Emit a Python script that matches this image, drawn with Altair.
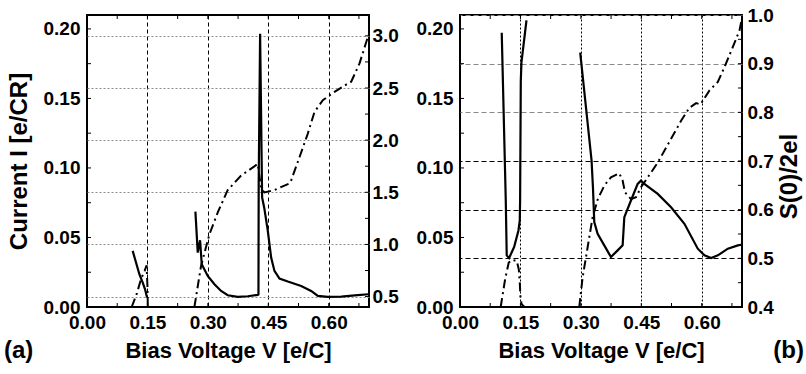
import altair as alt
import pandas as pd

# ---------------- Panel (a) ----------------
# Current I (dash-dot, left axis)
a_cur_x1 = [0.111, 0.124, 0.134, 0.143, 0.148, 0.150, 0.151]
a_cur_y1 = [0.0, 0.010, 0.020, 0.026, 0.030, 0.015, 0.0]
a_cur_x2 = [0.2666, 0.283, 0.3039, 0.3246, 0.349, 0.3825, 0.4239, 0.4322, 0.4405, 0.4653,
            0.5026, 0.5067, 0.5274, 0.548, 0.5647, 0.5854, 0.6144, 0.6475, 0.6558, 0.6765, 0.6988]
a_cur_y2 = [0.0, 0.0294, 0.0523, 0.068, 0.084, 0.0945, 0.1029, 0.085, 0.0824, 0.0841,
            0.0889, 0.091, 0.1077, 0.1246, 0.1403, 0.1487, 0.1547, 0.1607, 0.162, 0.1752, 0.1957]
# Fano factor S(0)/2eI (solid, right axis)
a_fano_x1 = [0.1134, 0.130, 0.1383, 0.1441, 0.149]
a_fano_y1 = [0.938, 0.714, 0.634, 0.570, 0.49]
a_fano_x2 = [0.2691, 0.2749, 0.2807, 0.2848, 0.2997, 0.3163, 0.3329, 0.3494, 0.3743, 0.3991,
             0.4239, 0.4256, 0.4262, 0.4297, 0.4347, 0.4400, 0.4488, 0.4571, 0.4653, 0.4778,
             0.4985, 0.5316, 0.5564, 0.573, 0.5978, 0.631, 0.672, 0.699]
a_fano_y2 = [1.315, 0.922, 1.04, 0.81, 0.698, 0.618, 0.554, 0.513, 0.497, 0.503,
             0.516, 0.52, 1.6, 3.02, 1.45, 1.35, 1.13, 0.874, 0.746, 0.673,
             0.644, 0.602, 0.554, 0.506, 0.497, 0.500, 0.513, 0.522]

# ---------------- Panel (b) ----------------
b_cur_x1 = [0.101, 0.112, 0.121, 0.130, 0.141, 0.146, 0.1485, 0.150, 0.153, 0.160]
b_cur_y1 = [0.0, 0.020, 0.032, 0.034, 0.033, 0.027, 0.017, 0.007, 0.002, 0.0]
b_cur_x2 = [0.296, 0.3043, 0.3167, 0.3291, 0.3416, 0.3581, 0.3747, 0.3954, 0.4037, 0.4095,
            0.4244, 0.4369, 0.4493, 0.4908, 0.5239, 0.5488, 0.5695, 0.5861, 0.5969, 0.6193,
            0.64, 0.6566, 0.6773, 0.6939, 0.698]
b_cur_y2 = [0.0, 0.0212, 0.0428, 0.0644, 0.0772, 0.0873, 0.0933, 0.0962, 0.0909, 0.0825,
            0.0776, 0.0789, 0.0861, 0.1038, 0.121, 0.134, 0.1433, 0.1466, 0.1457, 0.1558,
            0.1618, 0.1726, 0.187, 0.199, 0.205]
b_fano_x1 = [0.1036, 0.1136, 0.116, 0.1219, 0.1343, 0.1451, 0.1484, 0.1492, 0.1509, 0.1525, 0.165]
b_fano_y1 = [0.9635, 0.6188, 0.506, 0.5007, 0.5232, 0.5573, 0.5778, 0.6188, 0.8645, 0.902, 0.989]
b_fano_x2 = [0.2984, 0.3266, 0.33, 0.3333, 0.3416, 0.3581, 0.3747, 0.3913, 0.4037, 0.4079,
             0.4244, 0.441, 0.4493, 0.4576, 0.4908, 0.5239, 0.5571, 0.5902, 0.6068, 0.6234,
             0.64, 0.6649, 0.6897, 0.698]
b_fano_y2 = [0.9225, 0.7007, 0.646, 0.5744, 0.5505, 0.5266, 0.5027, 0.5164, 0.5266, 0.5846,
             0.6188, 0.6529, 0.6597, 0.6529, 0.6324, 0.6051, 0.571, 0.5198, 0.5061, 0.5007,
             0.5061, 0.5198, 0.5266, 0.528]

# ---------------- Axes / ticks ----------------
x_labels = [0.0, 0.15, 0.30, 0.45, 0.60]
x_ticks = [0.0, 0.075, 0.15, 0.225, 0.30, 0.375, 0.45, 0.525, 0.60, 0.675]
left_labels = [0.0, 0.05, 0.10, 0.15, 0.20]
left_ticks = [0.0, 0.025, 0.05, 0.075, 0.10, 0.125, 0.15, 0.175, 0.20]
a_right_labels = [0.5, 1.0, 1.5, 2.0, 2.5, 3.0]
a_right_ticks = [0.5, 0.75, 1.0, 1.25, 1.5, 1.75, 2.0, 2.25, 2.5, 2.75, 3.0]
b_right_labels = [0.4, 0.5, 0.6, 0.7, 0.8, 0.9, 1.0]
b_right_ticks = [0.4, 0.45, 0.5, 0.55, 0.6, 0.65, 0.7, 0.75, 0.8, 0.85, 0.9, 0.95, 1.0]

W, H = 282, 292
TL = 4
FONT = "Liberation Sans"


def segs(*pairs):
    rows = []
    for s, (xs, ys) in enumerate(pairs):
        for i, (x, y) in enumerate(zip(xs, ys)):
            rows.append({"x": x, "y": y, "seg": s, "i": i})
    return pd.DataFrame(rows)


def panel(cur, fano, rdomain, rlabels, rticks, rfmt, left_title, right_title,
          grid_color, grid_dash, xgrid_dash, tag, tag_x, tag_align, rpad):
    xaxis = alt.Axis(values=x_labels, format=".2f", title="Bias Voltage V [e/C]",
                     grid=True, gridDash=xgrid_dash, gridColor="black", gridWidth=1,
                     ticks=False, domain=False, labelPadding=6, titlePadding=8,
                     labelFlush=False, labelOverlap=False)
    X = alt.X("x:Q", scale=alt.Scale(domain=[0, 0.7], nice=False, zero=False), axis=xaxis)

    laxis_kw = dict(values=left_labels, format=".2f", grid=False, ticks=False, domain=False,
                    labelPadding=7, labelOverlap=False)
    if left_title:
        laxis_kw.update(title=left_title, titleFontSize=24, titleX=-68, titleY=146,
                        titleAngle=270, titleAlign="center", titleBaseline="middle")
    else:
        laxis_kw.update(title=None)
    YL = alt.Y("y:Q", scale=alt.Scale(domain=[0, 0.21], nice=False, zero=False),
               axis=alt.Axis(**laxis_kw))

    raxis_kw = dict(values=rlabels, format=rfmt, orient="right", grid=True, gridDash=grid_dash,
                    gridColor=grid_color, gridWidth=1, ticks=False, domain=False,
                    labelPadding=rpad, labelOverlap=False, labelFlush=False)
    if right_title:
        raxis_kw.update(title=right_title, titleFontSize=24, titleAngle=270, titleX=47,
                        titleY=161, titleAlign="center", titleBaseline="middle")
    else:
        raxis_kw.update(title=None)
    YR = alt.Y("y:Q", scale=alt.Scale(domain=rdomain, nice=False, zero=False),
               axis=alt.Axis(**raxis_kw))

    cur_line = alt.Chart(cur).mark_line(color="black", strokeWidth=2,
                                         strokeDash=[9, 4, 2, 4]).encode(
        x=X, y=YL, detail="seg:N", order="i:Q")
    lt = alt.Chart(pd.DataFrame({"y": left_ticks})).mark_rule(color="black", strokeWidth=1).encode(
        y=YL, x=alt.value(0), x2=alt.value(TL))
    xt = pd.DataFrame({"x": x_ticks})
    bt = alt.Chart(xt).mark_rule(color="black", strokeWidth=1).encode(
        x=X, y=alt.value(H - TL), y2=alt.value(H))
    tt = alt.Chart(xt).mark_rule(color="black", strokeWidth=1).encode(
        x=X, y=alt.value(0), y2=alt.value(TL))
    tag_mark = alt.Chart(pd.DataFrame({"t": [tag]})).mark_text(
        font=FONT, fontWeight="bold", fontSize=24, align=tag_align, baseline="middle",
        color="black").encode(x=alt.value(tag_x), y=alt.value(336), text="t:N")

    fano_line = alt.Chart(fano).mark_line(color="black", strokeWidth=2.2).encode(
        x=X, y=YR, detail="seg:N", order="i:Q")
    rt = alt.Chart(pd.DataFrame({"y": rticks})).mark_rule(color="black", strokeWidth=1).encode(
        y=YR, x=alt.value(W - TL), x2=alt.value(W))

    left = alt.layer(cur_line, lt, bt, tt, tag_mark)
    right = alt.layer(fano_line, rt)
    return alt.layer(left, right).resolve_scale(y="independent").properties(width=W, height=H)


pa = panel(segs((a_cur_x1, a_cur_y1), (a_cur_x2, a_cur_y2)),
           segs((a_fano_x1, a_fano_y1), (a_fano_x2, a_fano_y2)),
           [0.4, 3.2], a_right_labels, a_right_ticks, ".1f",
           "Current I [e/CR]", None, "#888888", [2, 2], [4, 3], "(a)", -83, "left", 3)

b_grid_color = {"condition": {"test": "datum.value >= 0.75", "value": "#888888"},
                "value": "black"}
pb = panel(segs((b_cur_x1, b_cur_y1), (b_cur_x2, b_cur_y2)),
           segs((b_fano_x1, b_fano_y1), (b_fano_x2, b_fano_y2)),
           [0.4, 1.0], b_right_labels, b_right_ticks, ".1f",
           None, "S(0)/2el", b_grid_color, [5, 3], [2, 2], "(b)", 344, "right", 5)

chart = alt.hconcat(pa, pb, spacing=91, bounds="flush").properties(
    padding={"left": 3, "top": 5, "right": 0, "bottom": 0},
    background="white",
).configure_view(stroke="black", strokeWidth=2).configure_axis(
    labelFont=FONT, labelFontWeight="bold", labelFontSize=19, labelColor="black",
    titleFont=FONT, titleFontWeight="bold", titleFontSize=22, titleColor="black",
)

chart.save("out.html", embed_options={"renderer": "svg", "actions": False})
